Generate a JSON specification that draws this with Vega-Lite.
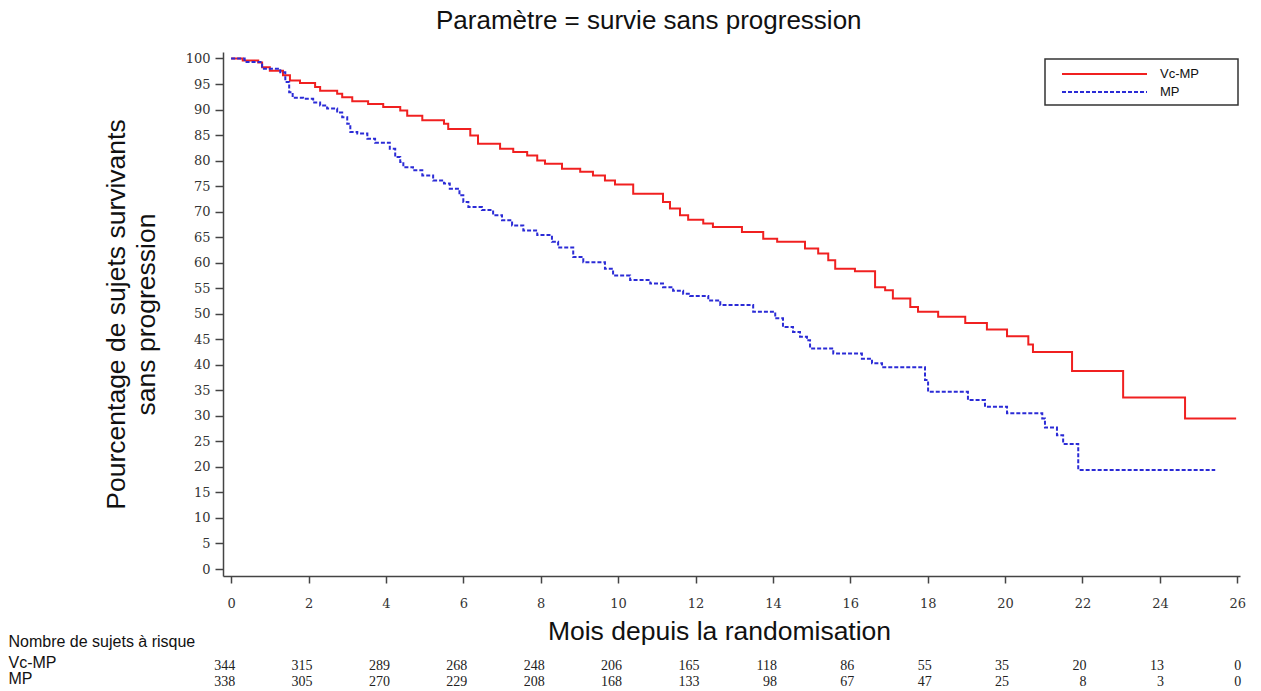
{
  "$schema": "https://vega.github.io/schema/vega-lite/v6.json",
  "padding": {"left": 8, "top": 8, "right": 0, "bottom": 0},
  "background": "white",
  "title": {"text": "Paramètre = survie sans progression", "anchor": "middle", "font": "Liberation Sans", "fontSize": 26, "fontWeight": "normal", "color": "#111", "offset": 18, "dx": 22},
  "config": {"view": {"stroke": null}, "legend": {"strokeWidth": 1.5}},
  "bounds": "flush",
  "spacing": 82,
  "datasets": {
    "km": [
      {"groupe": "Vc-MP", "mois": 0, "pct": 100},
      {"groupe": "Vc-MP", "mois": 0.3, "pct": 99.6},
      {"groupe": "Vc-MP", "mois": 0.7, "pct": 99.2},
      {"groupe": "Vc-MP", "mois": 0.8, "pct": 98.3},
      {"groupe": "Vc-MP", "mois": 1.0, "pct": 97.6},
      {"groupe": "Vc-MP", "mois": 1.34, "pct": 96.7},
      {"groupe": "Vc-MP", "mois": 1.52, "pct": 95.7},
      {"groupe": "Vc-MP", "mois": 1.78, "pct": 95.2},
      {"groupe": "Vc-MP", "mois": 2.17, "pct": 94.4},
      {"groupe": "Vc-MP", "mois": 2.3, "pct": 93.7},
      {"groupe": "Vc-MP", "mois": 2.74, "pct": 93.1},
      {"groupe": "Vc-MP", "mois": 2.87, "pct": 92.4},
      {"groupe": "Vc-MP", "mois": 3.13, "pct": 91.6},
      {"groupe": "Vc-MP", "mois": 3.54, "pct": 91.1},
      {"groupe": "Vc-MP", "mois": 3.93, "pct": 90.5},
      {"groupe": "Vc-MP", "mois": 4.37, "pct": 89.8},
      {"groupe": "Vc-MP", "mois": 4.55, "pct": 88.8},
      {"groupe": "Vc-MP", "mois": 4.94, "pct": 87.9},
      {"groupe": "Vc-MP", "mois": 5.5, "pct": 87.2},
      {"groupe": "Vc-MP", "mois": 5.61, "pct": 86.2},
      {"groupe": "Vc-MP", "mois": 6.18, "pct": 84.9},
      {"groupe": "Vc-MP", "mois": 6.38, "pct": 83.3},
      {"groupe": "Vc-MP", "mois": 6.95, "pct": 82.3},
      {"groupe": "Vc-MP", "mois": 7.29, "pct": 81.7},
      {"groupe": "Vc-MP", "mois": 7.65, "pct": 81.0},
      {"groupe": "Vc-MP", "mois": 7.91, "pct": 80.0},
      {"groupe": "Vc-MP", "mois": 8.11, "pct": 79.4},
      {"groupe": "Vc-MP", "mois": 8.55, "pct": 78.4},
      {"groupe": "Vc-MP", "mois": 9.02, "pct": 77.8},
      {"groupe": "Vc-MP", "mois": 9.35, "pct": 77.1},
      {"groupe": "Vc-MP", "mois": 9.66, "pct": 76.1},
      {"groupe": "Vc-MP", "mois": 9.92, "pct": 75.3},
      {"groupe": "Vc-MP", "mois": 10.39, "pct": 73.5},
      {"groupe": "Vc-MP", "mois": 11.16, "pct": 71.9},
      {"groupe": "Vc-MP", "mois": 11.34, "pct": 70.6},
      {"groupe": "Vc-MP", "mois": 11.6, "pct": 69.3},
      {"groupe": "Vc-MP", "mois": 11.81, "pct": 68.4},
      {"groupe": "Vc-MP", "mois": 12.2, "pct": 67.7},
      {"groupe": "Vc-MP", "mois": 12.45, "pct": 67.0},
      {"groupe": "Vc-MP", "mois": 13.2, "pct": 66.0},
      {"groupe": "Vc-MP", "mois": 13.75, "pct": 64.7},
      {"groupe": "Vc-MP", "mois": 14.11, "pct": 64.1},
      {"groupe": "Vc-MP", "mois": 14.83, "pct": 62.8},
      {"groupe": "Vc-MP", "mois": 15.17, "pct": 61.8},
      {"groupe": "Vc-MP", "mois": 15.43, "pct": 60.5},
      {"groupe": "Vc-MP", "mois": 15.61, "pct": 58.8},
      {"groupe": "Vc-MP", "mois": 16.12, "pct": 58.3},
      {"groupe": "Vc-MP", "mois": 16.64, "pct": 55.2},
      {"groupe": "Vc-MP", "mois": 16.9, "pct": 54.6},
      {"groupe": "Vc-MP", "mois": 17.1, "pct": 53.0},
      {"groupe": "Vc-MP", "mois": 17.55, "pct": 51.3},
      {"groupe": "Vc-MP", "mois": 17.75, "pct": 50.4},
      {"groupe": "Vc-MP", "mois": 18.27, "pct": 49.4},
      {"groupe": "Vc-MP", "mois": 18.97, "pct": 48.2},
      {"groupe": "Vc-MP", "mois": 19.53, "pct": 46.9},
      {"groupe": "Vc-MP", "mois": 20.05, "pct": 45.6},
      {"groupe": "Vc-MP", "mois": 20.6, "pct": 44.0},
      {"groupe": "Vc-MP", "mois": 20.72, "pct": 42.5},
      {"groupe": "Vc-MP", "mois": 21.73, "pct": 38.8},
      {"groupe": "Vc-MP", "mois": 23.05, "pct": 33.6},
      {"groupe": "Vc-MP", "mois": 24.65, "pct": 29.5},
      {"groupe": "Vc-MP", "mois": 25.97, "pct": 29.5},
      {"groupe": "MP", "mois": 0, "pct": 100},
      {"groupe": "MP", "mois": 0.35, "pct": 99.3},
      {"groupe": "MP", "mois": 0.8, "pct": 98.0},
      {"groupe": "MP", "mois": 1.27, "pct": 97.3},
      {"groupe": "MP", "mois": 1.4, "pct": 95.4},
      {"groupe": "MP", "mois": 1.5, "pct": 93.4},
      {"groupe": "MP", "mois": 1.59, "pct": 92.3},
      {"groupe": "MP", "mois": 1.86, "pct": 92.1},
      {"groupe": "MP", "mois": 2.12, "pct": 91.4},
      {"groupe": "MP", "mois": 2.3, "pct": 90.8},
      {"groupe": "MP", "mois": 2.48, "pct": 90.2},
      {"groupe": "MP", "mois": 2.74, "pct": 89.4},
      {"groupe": "MP", "mois": 2.87, "pct": 88.5},
      {"groupe": "MP", "mois": 3.0, "pct": 87.2},
      {"groupe": "MP", "mois": 3.08, "pct": 85.6},
      {"groupe": "MP", "mois": 3.26, "pct": 85.3},
      {"groupe": "MP", "mois": 3.52, "pct": 84.3},
      {"groupe": "MP", "mois": 3.72, "pct": 83.5},
      {"groupe": "MP", "mois": 4.1, "pct": 82.3},
      {"groupe": "MP", "mois": 4.24, "pct": 80.7},
      {"groupe": "MP", "mois": 4.37, "pct": 79.7},
      {"groupe": "MP", "mois": 4.45, "pct": 78.7},
      {"groupe": "MP", "mois": 4.7, "pct": 78.1},
      {"groupe": "MP", "mois": 4.94, "pct": 77.1},
      {"groupe": "MP", "mois": 5.22, "pct": 76.1},
      {"groupe": "MP", "mois": 5.5, "pct": 75.5},
      {"groupe": "MP", "mois": 5.65, "pct": 74.5},
      {"groupe": "MP", "mois": 5.9, "pct": 73.2},
      {"groupe": "MP", "mois": 6.0, "pct": 71.9},
      {"groupe": "MP", "mois": 6.13, "pct": 70.9},
      {"groupe": "MP", "mois": 6.48, "pct": 70.3},
      {"groupe": "MP", "mois": 6.77, "pct": 69.3},
      {"groupe": "MP", "mois": 7.0, "pct": 68.3},
      {"groupe": "MP", "mois": 7.26, "pct": 67.3},
      {"groupe": "MP", "mois": 7.55, "pct": 66.3},
      {"groupe": "MP", "mois": 7.91, "pct": 65.4},
      {"groupe": "MP", "mois": 8.29, "pct": 64.1},
      {"groupe": "MP", "mois": 8.45, "pct": 63.0},
      {"groupe": "MP", "mois": 8.84, "pct": 61.1},
      {"groupe": "MP", "mois": 9.1, "pct": 60.1},
      {"groupe": "MP", "mois": 9.66, "pct": 58.8},
      {"groupe": "MP", "mois": 9.87, "pct": 57.5},
      {"groupe": "MP", "mois": 10.31, "pct": 56.6},
      {"groupe": "MP", "mois": 10.83, "pct": 55.9},
      {"groupe": "MP", "mois": 11.16, "pct": 55.2},
      {"groupe": "MP", "mois": 11.42, "pct": 54.5},
      {"groupe": "MP", "mois": 11.68, "pct": 53.9},
      {"groupe": "MP", "mois": 11.86, "pct": 53.5},
      {"groupe": "MP", "mois": 12.33, "pct": 52.6},
      {"groupe": "MP", "mois": 12.64, "pct": 51.7},
      {"groupe": "MP", "mois": 13.49, "pct": 50.4},
      {"groupe": "MP", "mois": 14.06, "pct": 49.1},
      {"groupe": "MP", "mois": 14.26, "pct": 47.4},
      {"groupe": "MP", "mois": 14.52, "pct": 46.4},
      {"groupe": "MP", "mois": 14.7, "pct": 45.5},
      {"groupe": "MP", "mois": 14.88, "pct": 44.8},
      {"groupe": "MP", "mois": 14.96, "pct": 43.2},
      {"groupe": "MP", "mois": 15.56, "pct": 42.2},
      {"groupe": "MP", "mois": 16.3, "pct": 41.2},
      {"groupe": "MP", "mois": 16.56, "pct": 40.3},
      {"groupe": "MP", "mois": 16.82, "pct": 39.5},
      {"groupe": "MP", "mois": 17.93, "pct": 37.0},
      {"groupe": "MP", "mois": 18.01, "pct": 34.7},
      {"groupe": "MP", "mois": 19.04, "pct": 33.1},
      {"groupe": "MP", "mois": 19.48, "pct": 31.8},
      {"groupe": "MP", "mois": 20.05, "pct": 30.5},
      {"groupe": "MP", "mois": 20.96, "pct": 29.5},
      {"groupe": "MP", "mois": 21.03, "pct": 27.7},
      {"groupe": "MP", "mois": 21.34, "pct": 26.2},
      {"groupe": "MP", "mois": 21.5, "pct": 24.5},
      {"groupe": "MP", "mois": 21.89, "pct": 19.4},
      {"groupe": "MP", "mois": 25.43, "pct": 19.4}
    ],
    "risk": [
      {"groupe": "Vc-MP", "mois": 0, "n": 344},
      {"groupe": "Vc-MP", "mois": 2, "n": 315},
      {"groupe": "Vc-MP", "mois": 4, "n": 289},
      {"groupe": "Vc-MP", "mois": 6, "n": 268},
      {"groupe": "Vc-MP", "mois": 8, "n": 248},
      {"groupe": "Vc-MP", "mois": 10, "n": 206},
      {"groupe": "Vc-MP", "mois": 12, "n": 165},
      {"groupe": "Vc-MP", "mois": 14, "n": 118},
      {"groupe": "Vc-MP", "mois": 16, "n": 86},
      {"groupe": "Vc-MP", "mois": 18, "n": 55},
      {"groupe": "Vc-MP", "mois": 20, "n": 35},
      {"groupe": "Vc-MP", "mois": 22, "n": 20},
      {"groupe": "Vc-MP", "mois": 24, "n": 13},
      {"groupe": "Vc-MP", "mois": 26, "n": 0},
      {"groupe": "MP", "mois": 0, "n": 338},
      {"groupe": "MP", "mois": 2, "n": 305},
      {"groupe": "MP", "mois": 4, "n": 270},
      {"groupe": "MP", "mois": 6, "n": 229},
      {"groupe": "MP", "mois": 8, "n": 208},
      {"groupe": "MP", "mois": 10, "n": 168},
      {"groupe": "MP", "mois": 12, "n": 133},
      {"groupe": "MP", "mois": 14, "n": 98},
      {"groupe": "MP", "mois": 16, "n": 67},
      {"groupe": "MP", "mois": 18, "n": 47},
      {"groupe": "MP", "mois": 20, "n": 25},
      {"groupe": "MP", "mois": 22, "n": 8},
      {"groupe": "MP", "mois": 24, "n": 3},
      {"groupe": "MP", "mois": 26, "n": 0}
    ]
  },
  "vconcat": [
    {
      "width": 1017,
      "height": 524,
      "data": {"name": "km"},
      "mark": {"type": "line", "interpolate": "step-after", "strokeWidth": 2},
      "encoding": {
        "x": {
          "field": "mois", "type": "quantitative",
          "scale": {"domain": [-0.21, 26.07], "nice": false, "zero": false},
          "axis": {
            "values": [0, 2, 4, 6, 8, 10, 12, 14, 16, 18, 20, 22, 24, 26],
            "title": "Mois depuis la randomisation",
            "titleFont": "Liberation Sans", "titleFontSize": 26.5, "titleFontWeight": "normal", "titleColor": "#111",
            "titlePadding": 8, "titleX": 496,
            "labelFont": "DejaVu Serif", "labelFontSize": 13, "labelColor": "#333", "labelPadding": 14,
            "tickSize": 7, "tickColor": "#444", "tickWidth": 1.5,
            "domainColor": "#444", "domainWidth": 1.5, "grid": false
          }
        },
        "y": {
          "field": "pct", "type": "quantitative",
          "scale": {"domain": [-1.37, 101.27], "nice": false, "zero": false},
          "axis": {
            "values": [0, 5, 10, 15, 20, 25, 30, 35, 40, 45, 50, 55, 60, 65, 70, 75, 80, 85, 90, 95, 100],
            "title": ["Pourcentage de sujets survivants", "sans progression"],
            "titleFont": "Liberation Sans", "titleFontSize": 26.5, "titleFontWeight": "normal", "titleColor": "#111",
            "titleLineHeight": 30, "titleAngle": -90, "titleBaseline": "bottom", "titleAlign": "center",
            "titleX": -93, "titleY": 262,
            "labelFont": "DejaVu Serif", "labelFontSize": 13, "labelColor": "#333", "labelPadding": 5,
            "tickSize": 8, "tickColor": "#444", "tickWidth": 1.5,
            "domainColor": "#444", "domainWidth": 1.5, "grid": false
          }
        },
        "color": {
          "field": "groupe", "type": "nominal",
          "scale": {"domain": ["Vc-MP", "MP"], "range": ["#f02020", "#2b2bd6"]},
          "legend": {
            "title": null, "orient": "none", "legendX": 822, "legendY": 7,
            "symbolType": "M-5.3125,0H5.3125", "symbolSize": 256, "symbolStrokeWidth": 2, "symbolOffset": 44.5,
            "labelFont": "Liberation Sans", "labelFontSize": 13, "labelColor": "#111", "labelOffset": 46.5,
            "labelExpr": "datum.label + '\u00a0\u00a0\u00a0\u00a0\u00a0\u00a0\u00a0\u00a0\u00a0\u200b'",
            "padding": 6, "rowPadding": 2,
            "strokeColor": "#333", "fillColor": "white"
          }
        },
        "strokeDash": {
          "field": "groupe", "type": "nominal",
          "scale": {"domain": ["Vc-MP", "MP"], "range": [[1, 0], [4, 2]]},
          "legend": {
            "title": null, "orient": "none", "legendX": 822, "legendY": 7,
            "symbolType": "M-5.3125,0H5.3125", "symbolSize": 256, "symbolStrokeWidth": 2, "symbolOffset": 44.5,
            "labelFont": "Liberation Sans", "labelFontSize": 13, "labelColor": "#111", "labelOffset": 46.5,
            "labelExpr": "datum.label + '\u00a0\u00a0\u00a0\u00a0\u00a0\u00a0\u00a0\u00a0\u00a0\u200b'",
            "padding": 6, "rowPadding": 2,
            "strokeColor": "#333", "fillColor": "white"
          }
        }
      }
    },
    {
      "width": 1017,
      "height": 32,
      "data": {"name": "risk"},
      "mark": {"type": "text", "align": "right", "dx": 4, "font": "Liberation Serif", "fontSize": 14, "color": "#222"},
      "encoding": {
        "x": {
          "field": "mois", "type": "quantitative",
          "scale": {"domain": [-0.21, 26.07], "nice": false, "zero": false},
          "axis": null
        },
        "y": {
          "field": "groupe", "type": "nominal",
          "scale": {"domain": ["Vc-MP", "MP"]},
          "axis": {
            "title": "Nombre de sujets à risque",
            "titleAngle": 0, "titleAlign": "left", "titleBaseline": "middle",
            "titleX": -215, "titleY": -17,
            "titleFont": "Liberation Sans", "titleFontSize": 16, "titleFontWeight": "normal", "titleColor": "#111",
            "labelAlign": "left", "labelPadding": 215, "ticks": false, "tickSize": 0, "domain": false,
            "labelFont": "Liberation Sans", "labelFontSize": 16, "labelColor": "#111", "labelOffset": -4
          }
        },
        "text": {"field": "n", "type": "quantitative"}
      }
    }
  ]
}
